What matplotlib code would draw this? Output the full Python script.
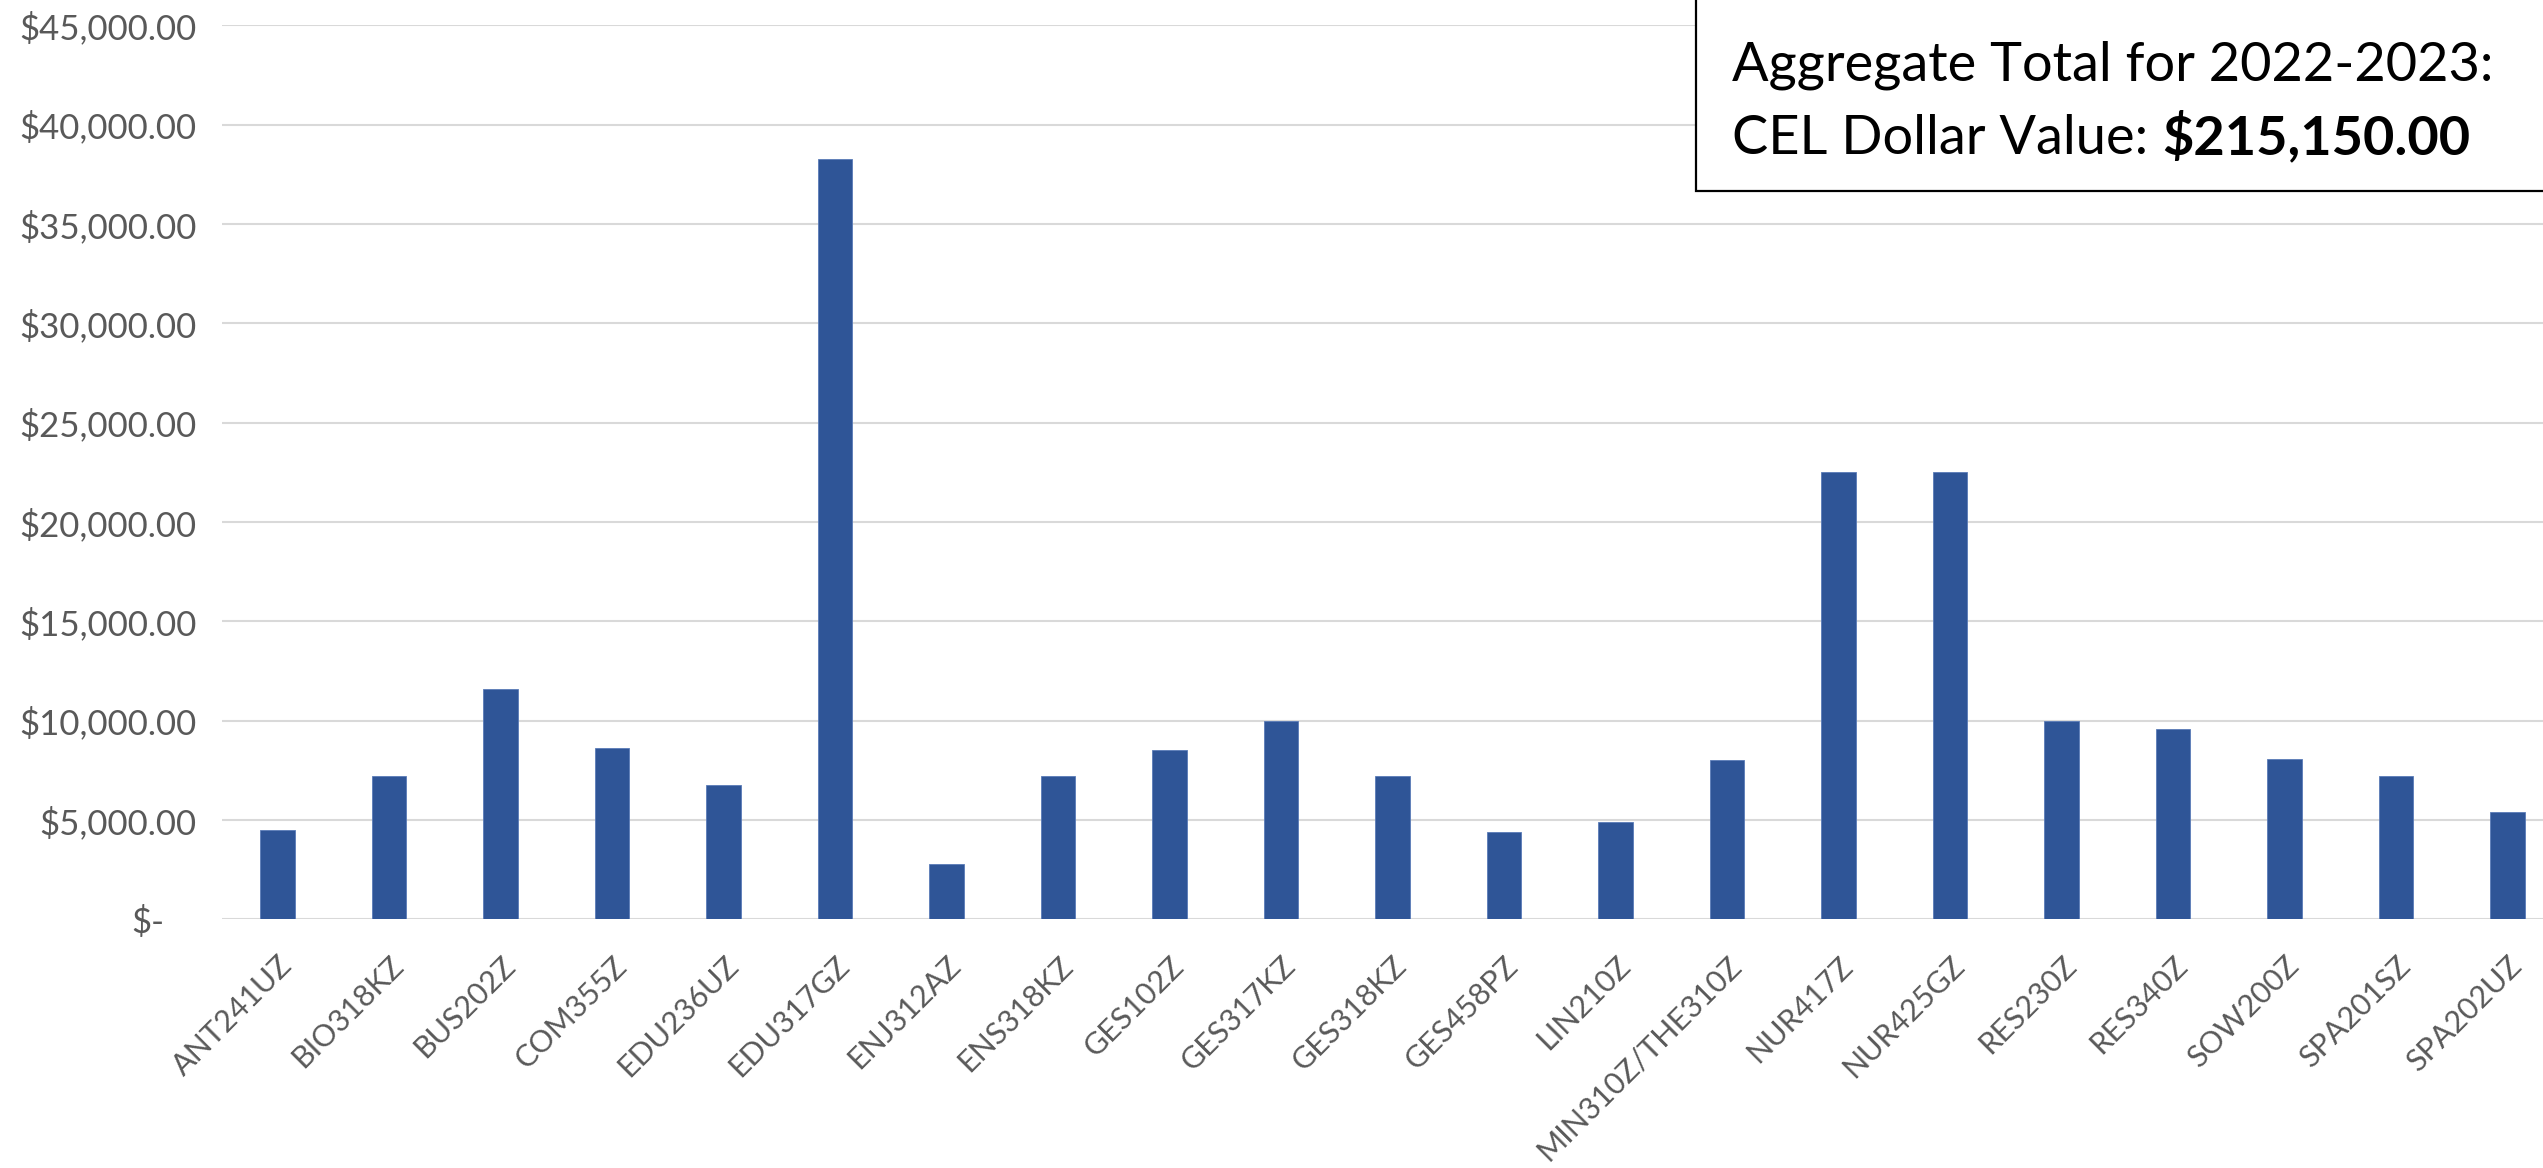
import matplotlib
matplotlib.use("Agg")
import matplotlib.pyplot as plt
from matplotlib.patches import Rectangle
from matplotlib.ticker import FuncFormatter, MultipleLocator
from matplotlib.transforms import ScaledTranslation

# Course sections and their CEL dollar values
courses = [
    "ANT241UZ", "BIO318KZ", "BUS202Z", "COM355Z", "EDU236UZ", "EDU317GZ",
    "ENJ312AZ", "ENS318KZ", "GES102Z", "GES317KZ", "GES318KZ", "GES458PZ",
    "LIN210Z", "MIN310Z/THE310Z", "NUR417Z", "NUR425GZ", "RES230Z",
    "RES340Z", "SOW200Z", "SPA201SZ", "SPA202UZ",
]
dollar_values = [
    4500, 7200, 11600, 8600, 6750, 38250,
    2800, 7200, 8500, 10000, 7200, 4400,
    4900, 8000, 22500, 22500, 10000,
    9600, 8050, 7200, 5400,
]
aggregate_total = 215150.00
title_line = "Aggregate Total for 2022-2023:"
value_label = "CEL Dollar Value: "

FONT = "Lato"
BAR_COLOR = "#2F5597"
GRID_COLOR = "#D9D9D9"
TEXT_GREY = "#595959"

plt.rcParams["font.family"] = [FONT, "DejaVu Sans"]

W, H, DPI = 2543, 1168, 100
fig = plt.figure(figsize=(W / DPI, H / DPI), dpi=DPI)
fig.patch.set_facecolor("white")

# plot area (pixel-based placement)
left_px, right_px = 221.75, 2563.25
top_px, bottom_px = 25.4, 919.2
ax = fig.add_axes([left_px / W, 1 - bottom_px / H,
                   (right_px - left_px) / W, (bottom_px - top_px) / H])

x = list(range(len(courses)))
ax.bar(x, dollar_values, width=0.31, color=BAR_COLOR,
       edgecolor="#5a7bb8", linewidth=0.6, zorder=3)

ax.set_xlim(-0.5, len(courses) - 0.5)
ax.set_ylim(0, 45000)
ax.yaxis.set_major_locator(MultipleLocator(5000))


def money(v, _pos):
    if abs(v) < 1e-9:
        return "$-"
    return f"${v:,.2f}"


ax.yaxis.set_major_formatter(FuncFormatter(money))
ax.grid(axis="y", color=GRID_COLOR, linewidth=1.5, zorder=0)
ax.set_axisbelow(True)
for s in ax.spines.values():
    s.set_visible(False)

ax.tick_params(axis="y", length=0, pad=18, labelsize=25, labelcolor=TEXT_GREY)
ax.tick_params(axis="x", length=0, pad=23, labelsize=22, labelcolor=TEXT_GREY)
ax.set_xticks(x)
ax.set_xticklabels(courses, rotation=45, ha="right", va="top",
                   rotation_mode="anchor")

# the zero label carries trailing accounting padding
fig.canvas.draw()
for tick in ax.yaxis.get_major_ticks():
    if tick.label1.get_text() == "$-":
        tick.label1.set_transform(
            tick.label1.get_transform()
            + ScaledTranslation(-32 / DPI, 0, fig.dpi_scale_trans))

# summary box in the upper right
box_left = 1696 / W
box_bottom = 1 - 191 / H
fig.add_artist(Rectangle((box_left, box_bottom), 1.0, 0.5,
                         transform=fig.transFigure, facecolor="white",
                         edgecolor="black", linewidth=1.6, zorder=5))

tx = 1732 / W
fig.text(tx, 1 - 81 / H, title_line, fontsize=39, color="black",
         va="baseline", ha="left", zorder=6)
t2 = fig.text(tx, 1 - 154 / H, value_label, fontsize=39, color="black",
              va="baseline", ha="left", zorder=6)
fig.canvas.draw()
# bold amount placed directly after the regular text
fig.text(tx, 1 - 154 / H, f"${aggregate_total:,.2f}", fontsize=39,
         fontweight="bold", color="black", va="baseline", ha="left", zorder=6,
         transform=fig.transFigure
         + ScaledTranslation(t2.get_window_extent().width / DPI, 0,
                             fig.dpi_scale_trans))

fig.savefig("out.png", dpi=DPI, facecolor="white")
